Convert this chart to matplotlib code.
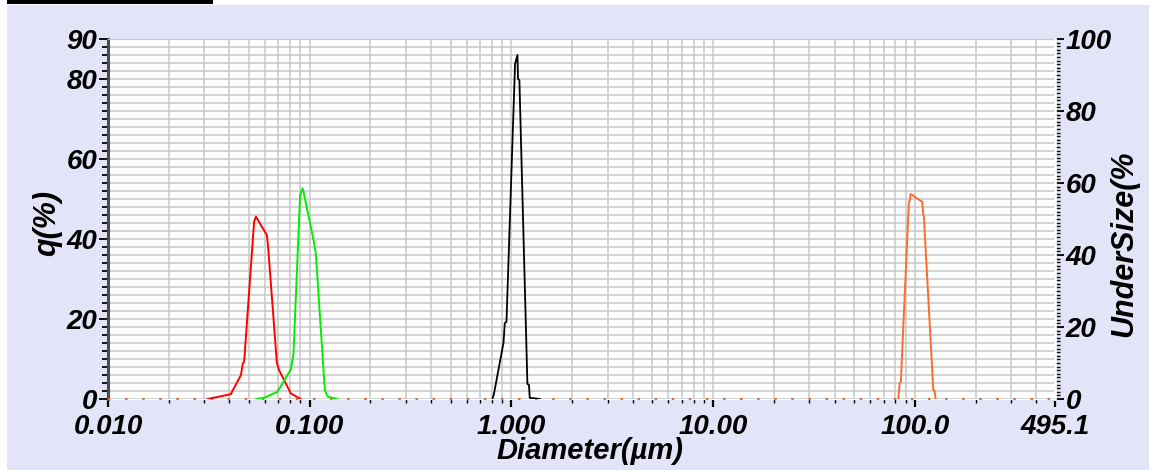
import numpy as np
import matplotlib
matplotlib.use('Agg')
import matplotlib.pyplot as plt
from matplotlib.patches import Rectangle
from matplotlib.ticker import FixedLocator, MultipleLocator, LogLocator, NullFormatter

# distribuciones q(%) vs diametro (um)
d_rojo = [0.0312, 0.0406, 0.0456, 0.0466, 0.0473, 0.0530, 0.0541, 0.0613, 0.0622, 0.0687, 0.0705, 0.0806, 0.0903]
q_rojo = [0, 1.2, 6.0, 8.9, 9.3, 44.3, 45.6, 41.0, 38.0, 9.1, 7.2, 1.4, 0]

d_verde = [0.0541, 0.0594, 0.0692, 0.0806, 0.0831, 0.0896, 0.0921, 0.0932, 0.1044, 0.1072, 0.1188, 0.1226, 0.1373]
q_verde = [0, 0.3, 1.8, 7.4, 11.4, 51.0, 52.7, 51.8, 39.8, 36.4, 2.25, 0.6, 0]

d_negro = [0.805, 0.820, 0.913, 0.927, 0.945, 1.042, 1.071, 1.078, 1.095, 1.200, 1.222, 1.232, 1.386]
q_negro = [0, 1.4, 14.0, 19.0, 19.3, 83.75, 86.0, 80.0, 79.75, 3.75, 3.5, 0.3, 0]

d_naranja = [82.8, 84.0, 85.2, 93.4, 94.5, 95.2, 108.8, 110.0, 110.8, 123.4, 125.2, 126.6]
q_naranja = [0, 3.9, 4.25, 49.3, 49.75, 51.25, 49.3, 46.0, 45.75, 2.25, 2.1, 0]

xticks = [0.01, 0.1, 1, 10, 100, 495.1]
xtick_labels = ['0.010', '0.100', '1.000', '10.00', '100.0', '495.1']
yticks_izq = [0, 20, 40, 60, 80, 90]
yticks_der = [0, 20, 40, 60, 80, 100]

W, H = 1149, 470
fondo = '#E4E4F8'
grilla = '#C8C8C8'

plt.rcParams['font.family'] = ['Liberation Sans', 'DejaVu Sans']
plt.rcParams['font.weight'] = 'bold'
plt.rcParams['font.style'] = 'italic'

fig = plt.figure(figsize=(W / 100, H / 100), dpi=100)
fig.patch.set_facecolor('white')
fig.patches.append(Rectangle((7 / W, 0), 1, 1 - 5 / H, transform=fig.transFigure,
                             facecolor=fondo, edgecolor='none', zorder=-10))
fig.patches.append(Rectangle((7 / W, 1 - 4 / H), 206 / W, 4 / H, transform=fig.transFigure,
                             facecolor='black', edgecolor='none', zorder=-5))

ax = fig.add_axes([108 / W, 1 - 399 / H, (1055 - 108) / W, 360 / H])
ax.set_facecolor('white')

ax.plot(d_rojo, q_rojo, color='#FF0000', lw=1.4, zorder=5)
ax.plot(d_verde, q_verde, color='#00EE00', lw=1.4, zorder=5)
ax.plot(d_negro, q_negro, color='black', lw=1.3, zorder=5)
ax.plot(d_naranja, q_naranja, color='#FF6A2A', lw=1.4, zorder=5)
ax.axhline(0, color='#E0702A', lw=1.5, ls=(0, (1.2, 7)), clip_on=False, zorder=4)

ax.set_xscale('log')
ax.set_xlim(0.01, 495.1)
ax.set_ylim(0, 90)

ax.xaxis.set_major_locator(FixedLocator(xticks))
ax.set_xticklabels(xtick_labels)
ax.xaxis.set_minor_locator(LogLocator(base=10, subs=np.arange(2, 10)))
ax.xaxis.set_minor_formatter(NullFormatter())
ax.yaxis.set_major_locator(FixedLocator(yticks_izq))
ax.yaxis.set_minor_locator(MultipleLocator(2))

ax.grid(which='both', axis='both', color=grilla, lw=1.1)
ax.set_axisbelow(True)

ax.tick_params(axis='x', which='major', length=6, width=1.6, pad=5, labelsize=20)
ax.tick_params(axis='x', which='minor', length=3, width=1.0)
ax.tick_params(axis='y', which='major', length=6.5, width=1.3, pad=1, labelsize=20)
ax.tick_params(axis='y', which='minor', length=4.5, width=1.3)

ax.spines['left'].set_color('#4A4A4A')
ax.spines['left'].set_linewidth(2.2)
ax.spines['top'].set_color(grilla)
ax.spines['bottom'].set_color('white')
ax.spines['right'].set_color('white')

ax2 = ax.twinx()
ax2.set_ylim(0, 100)
ax2.yaxis.set_major_locator(FixedLocator(yticks_der))
ax2.yaxis.set_minor_locator(MultipleLocator(1))
ax2.tick_params(axis='y', which='major', length=6.5, width=1.3, pad=1, labelsize=20)
ax2.tick_params(axis='y', which='minor', length=3.5, width=1.0)
for s in ['left', 'top', 'bottom']:
    ax2.spines[s].set_visible(False)
ax2.spines['right'].set_color('white')
ax2.spines['right'].set_linewidth(2)

fig.text(47 / W, 1 - 223 / H, 'q(%)', rotation=90, ha='center', va='center', fontsize=22)
fig.text(1124 / W, 1 - 244 / H, 'UnderSize(%', rotation=90, ha='center', va='center', fontsize=22)
fig.text(590 / W, 1 - 451 / H, 'Diameter(µm)', ha='center', va='center', fontsize=21)

fig.savefig('out.png', dpi=100, facecolor=fig.get_facecolor())
